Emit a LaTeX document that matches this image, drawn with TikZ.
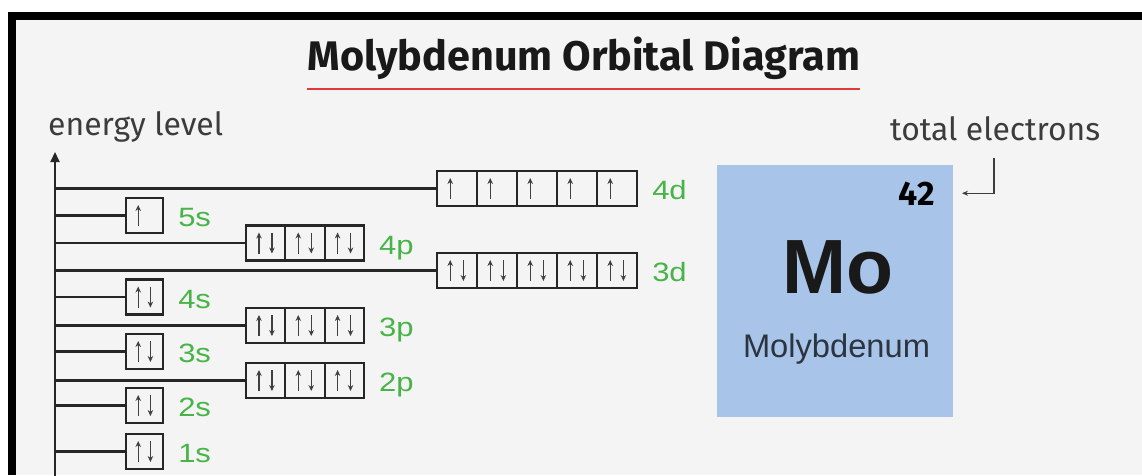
\documentclass[tikz,border=0pt]{standalone}
\usepackage{fontspec}
\setmainfont{Liberation Sans}
\newfontfamily\plexfont{Fira Sans}
\usetikzlibrary{arrows.meta,calc}

\definecolor{paper}{HTML}{F4F4F4}
\definecolor{lblgreen}{RGB}{70,180,70}
\definecolor{elemblue}{RGB}{168,196,232}
\definecolor{inkgray}{HTML}{3C3C3C}
\definecolor{rulered}{HTML}{E03A3A}
\definecolor{namegray}{HTML}{2C3440}

% scale a piece of text to a given width
\newcommand\fitw[2]{\resizebox{#1}{!}{#2}}

\tikzset{
  cell/.style={draw=black!85, line width=2.1pt, minimum height=35pt, inner sep=0pt},
  level/.style={draw=black!85, line width=2.1pt},
  spin/.style={draw=black!75, line width=1.3pt, -{Stealth[length=6pt,width=5.5pt]}},
  orblabel/.style={text=lblgreen, anchor=base west, inner sep=0pt, font=\fontsize{26.5}{26.5}\selectfont},
  callout/.style={draw=inkgray, line width=1.3pt, -{Stealth[length=6pt,width=5pt]}},
}

% #1 name, #2 left x, #3 centre y, #4 cell width, #5 cells, #6 electrons per cell
\newcommand\orbital[6]{%
  \foreach \k in {1,...,#5}{%
    \pgfmathsetmacro\xl{#2+(\k-1)*#4}%
    \node[cell, minimum width=#4pt] (#1-\k) at (\xl+#4/2, #3) {};
    \draw[spin] (\xl+0.33*#4, #3+10.5) -- (\xl+0.33*#4, #3-10.5);
    \ifnum#6=2 \draw[spin] (\xl+0.66*#4, #3-10.5) -- (\xl+0.66*#4, #3+10.5);\fi
  }%
  \coordinate (ax-#1) at (55,#3);
  \draw[level] (ax-#1) -- (#1-1.west);
  \node[orblabel] (lbl-#1) at ($(#1-#5.east)+(14,11)$) {\scalebox{1.17}[1]{#1}};
}

\begin{document}
\begin{tikzpicture}[x=1pt, y=-1pt]
  \useasboundingbox (0,0) rectangle (1142,475);
  \fill[white] (0,0) rectangle (1142,475);
  \fill[paper] (16,20) rectangle (1142,475);
  % frame
  \fill[black] (8,12) rectangle (1142,20);
  \fill[black] (8,12) rectangle (16,475);

  % title
  \node[anchor=base, inner sep=0, text=black!90] (title) at (584,70)
    {\fitw{552pt}{\plexfont\bfseries Molybdenum Orbital Diagram}};
  \draw[rulered, line width=1.8pt] (307,89) -- (860,89);

  % energy axis
  \node[anchor=base west, inner sep=0, text=inkgray] (elabel) at (48,135)
    {\fitw{175pt}{\plexfont energy level}};
  \coordinate (axis-top) at (55,152);
  \coordinate (axis-bot) at (55,476);
  \draw[level, -{Triangle[length=10pt,width=9pt]}] (axis-bot) -- (axis-top);

  % orbitals, highest first
  \orbital{4d}{437}{188.5}{40}{5}{1}
  \orbital{5s}{126}{215.5}{37}{1}{1}
  \orbital{4p}{246}{243}{39.3}{3}{2}
  \orbital{3d}{437}{270.5}{40}{5}{2}
  \orbital{4s}{126}{297}{37}{1}{2}
  \orbital{3p}{246}{325.5}{39.3}{3}{2}
  \orbital{3s}{126}{351.5}{37}{1}{2}
  \orbital{2p}{246}{380.5}{39.3}{3}{2}
  \orbital{2s}{126}{405.5}{37}{1}{2}
  \orbital{1s}{126}{451.5}{37}{1}{2}

  % element tile
  \node[fill=elemblue, minimum width=236pt, minimum height=252pt, anchor=north west, inner sep=0] (elem) at (717,165) {};
  \node[anchor=base east, inner sep=0] (num) at (935,205)
    {\fitw{36pt}{\plexfont\bfseries 42}};
  \node[anchor=base, inner sep=0, text=black!90] (sym) at (837.5,293)
    {\fitw{111pt}{\bfseries Mo}};
  \node[anchor=base, inner sep=0, text=namegray] (ename) at (836.5,357)
    {\fitw{187pt}{Molybdenum}};

  % total electrons callout
  \node[anchor=base west, inner sep=0, text=inkgray] (tot) at (890,140)
    {\fitw{210pt}{\plexfont total electrons}};
  \coordinate (tot-drop) at (994,158);
  \draw[callout, shorten >=27pt] (tot-drop) |- (num.east);
\end{tikzpicture}
\end{document}
